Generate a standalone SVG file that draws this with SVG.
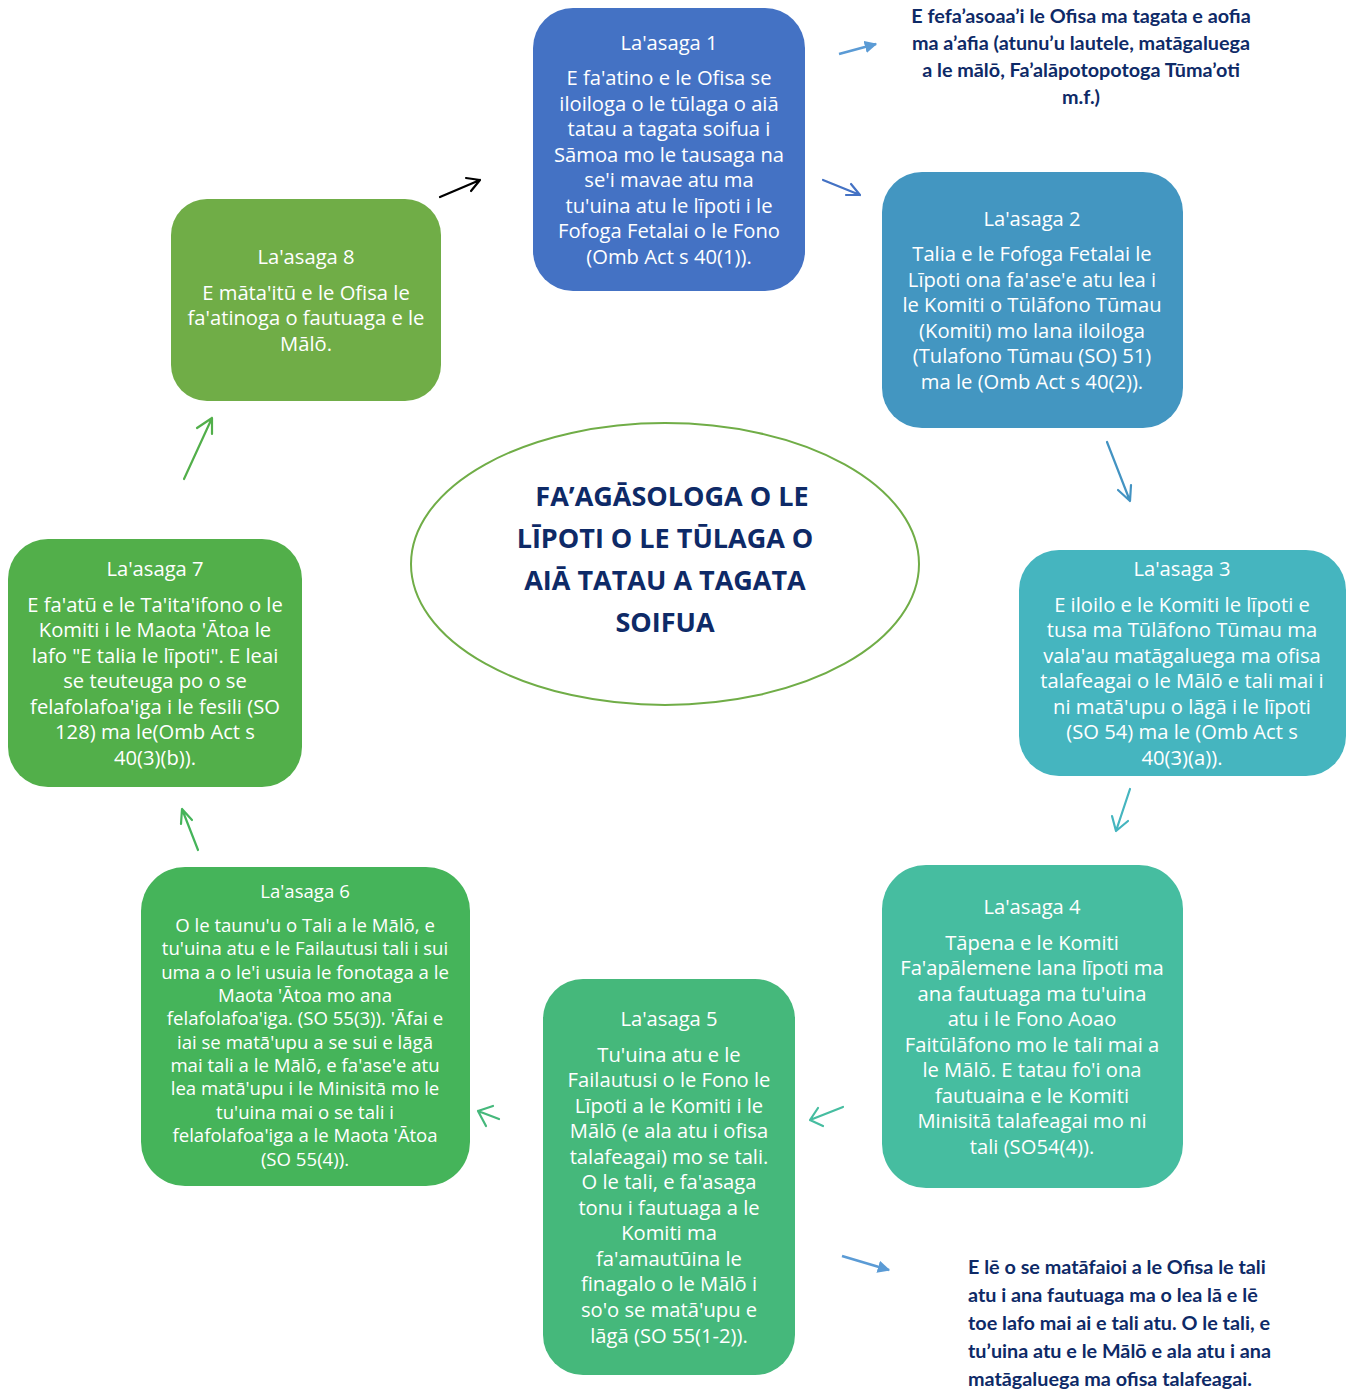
<svg xmlns="http://www.w3.org/2000/svg" width="1348" height="1391" viewBox="0 0 1348 1391">
<defs>
<style>
.nt{font-family:"Open Sans","Noto Sans",sans-serif;font-size:20.2px;fill:#fff;text-anchor:middle}
.n6{font-size:18.6px}
.ann{font-family:Lato,"Liberation Sans",sans-serif;font-weight:bold;font-size:19.8px;fill:#0E2A67}
.ttl{font-family:"Open Sans","Noto Sans",sans-serif;font-weight:bold;font-size:27px;fill:#0E2A67;text-anchor:middle}
.ar{fill:none;stroke-width:2.2;stroke-linecap:round;stroke-linejoin:round}
</style>
<marker id="tri" viewBox="0 0 10 10" refX="9" refY="5" markerWidth="5" markerHeight="5" orient="auto" markerUnits="strokeWidth"><path d="M0,0 L10,5 L0,10 z" fill="#5B9BD5"/></marker>
</defs>
<rect width="1348" height="1391" fill="#fff"/>

<g id="center">
<ellipse cx="665" cy="564" rx="254" ry="141" fill="#fff" stroke="#70AD47" stroke-width="2"/>
<text class="ttl" x="672" y="506">FA’AGĀSOLOGA O LE</text>
<text class="ttl" x="665" y="548">LĪPOTI O LE TŪLAGA O</text>
<text class="ttl" x="665" y="590">AIĀ TATAU A TAGATA</text>
<text class="ttl" x="665" y="632">SOIFUA</text>
</g>

<g id="node1">
<rect x="533" y="8" width="272" height="283" rx="40" fill="#4472C4"/>
<text class="nt" x="669" y="50">La'asaga 1</text>
<text class="nt" x="669" y="85">E fa'atino e le Ofisa se</text>
<text class="nt" x="669" y="111">iloiloga o le tūlaga o aiā</text>
<text class="nt" x="669" y="136">tatau a tagata soifua i</text>
<text class="nt" x="669" y="162">Sāmoa mo le tausaga na</text>
<text class="nt" x="669" y="187">se'i mavae atu ma</text>
<text class="nt" x="669" y="213">tu'uina atu le līpoti i le</text>
<text class="nt" x="669" y="238">Fofoga Fetalai o le Fono</text>
<text class="nt" x="669" y="264">(Omb Act s 40(1)).</text>
</g>

<g id="node2">
<rect x="882" y="172" width="301" height="256" rx="40" fill="#4396C1"/>
<text class="nt" x="1032" y="226">La'asaga 2</text>
<text class="nt" x="1032" y="261">Talia e le Fofoga Fetalai le</text>
<text class="nt" x="1032" y="287">Līpoti ona fa'ase'e atu lea i</text>
<text class="nt" x="1032" y="312">le Komiti o Tūlāfono Tūmau</text>
<text class="nt" x="1032" y="338">(Komiti) mo lana iloiloga</text>
<text class="nt" x="1032" y="363">(Tulafono Tūmau (SO) 51)</text>
<text class="nt" x="1032" y="389">ma le (Omb Act s 40(2)).</text>
</g>

<g id="node3">
<rect x="1019" y="550" width="327" height="226" rx="40" fill="#45B5BF"/>
<text class="nt" x="1182" y="576">La'asaga 3</text>
<text class="nt" x="1182" y="612">E iloilo e le Komiti le līpoti e</text>
<text class="nt" x="1182" y="637">tusa ma Tūlāfono Tūmau ma</text>
<text class="nt" x="1182" y="663">vala'au matāgaluega ma ofisa</text>
<text class="nt" x="1182" y="688">talafeagai o le Mālō e tali mai i</text>
<text class="nt" x="1182" y="714">ni matā'upu o lāgā i le līpoti</text>
<text class="nt" x="1182" y="739">(SO 54) ma le (Omb Act s</text>
<text class="nt" x="1182" y="765">40(3)(a)).</text>
</g>

<g id="node4">
<rect x="882" y="865" width="301" height="323" rx="44" fill="#46BDA0"/>
<text class="nt" x="1032" y="914">La'asaga 4</text>
<text class="nt" x="1032" y="950">Tāpena e le Komiti</text>
<text class="nt" x="1032" y="975">Fa'apālemene lana līpoti ma</text>
<text class="nt" x="1032" y="1001">ana fautuaga ma tu'uina</text>
<text class="nt" x="1032" y="1026">atu i le Fono Aoao</text>
<text class="nt" x="1032" y="1052">Faitūlāfono mo le tali mai a</text>
<text class="nt" x="1032" y="1077">le Mālō. E tatau fo'i ona</text>
<text class="nt" x="1032" y="1103">fautuaina e le Komiti</text>
<text class="nt" x="1032" y="1128">Minisitā talafeagai mo ni</text>
<text class="nt" x="1032" y="1154">tali (SO54(4)).</text>
</g>

<g id="node5">
<rect x="543" y="979" width="252" height="396" rx="40" fill="#45B87B"/>
<text class="nt" x="669" y="1026">La'asaga 5</text>
<text class="nt" x="669" y="1062">Tu'uina atu e le</text>
<text class="nt" x="669" y="1087">Failautusi o le Fono le</text>
<text class="nt" x="669" y="1113">Līpoti a le Komiti i le</text>
<text class="nt" x="669" y="1138">Mālō (e ala atu i ofisa</text>
<text class="nt" x="669" y="1164">talafeagai) mo se tali.</text>
<text class="nt" x="669" y="1189">O le tali, e fa'asaga</text>
<text class="nt" x="669" y="1215">tonu i fautuaga a le</text>
<text class="nt" x="669" y="1240">Komiti ma</text>
<text class="nt" x="669" y="1266">fa'amautūina le</text>
<text class="nt" x="669" y="1291">finagalo o le Mālō i</text>
<text class="nt" x="669" y="1317">so'o se matā'upu e</text>
<text class="nt" x="669" y="1343">lāgā (SO 55(1-2)).</text>
</g>

<g id="node6">
<rect x="141" y="867" width="329" height="319" rx="44" fill="#45B45A"/>
<text class="nt n6" x="305" y="898">La'asaga 6</text>
<text class="nt n6" x="305" y="932">O le taunu'u o Tali a le Mālō, e</text>
<text class="nt n6" x="305" y="955">tu'uina atu e le Failautusi tali i sui</text>
<text class="nt n6" x="305" y="979">uma a o le'i usuia le fonotaga a le</text>
<text class="nt n6" x="305" y="1002">Maota 'Ātoa mo ana</text>
<text class="nt n6" x="305" y="1025">felafolafoa'iga. (SO 55(3)). 'Āfai e</text>
<text class="nt n6" x="305" y="1049">iai se matā'upu a se sui e lāgā</text>
<text class="nt n6" x="305" y="1072">mai tali a le Mālō, e fa'ase'e atu</text>
<text class="nt n6" x="305" y="1095">lea matā'upu i le Minisitā mo le</text>
<text class="nt n6" x="305" y="1119">tu'uina mai o se tali i</text>
<text class="nt n6" x="305" y="1142">felafolafoa'iga a le Maota 'Ātoa</text>
<text class="nt n6" x="305" y="1166">(SO 55(4)).</text>
</g>

<g id="node7">
<rect x="8" y="539" width="294" height="248" rx="40" fill="#52AF4A"/>
<text class="nt" x="155" y="576">La'asaga 7</text>
<text class="nt" x="155" y="612">E fa'atū e le Ta'ita'ifono o le</text>
<text class="nt" x="155" y="637">Komiti i le Maota 'Ātoa le</text>
<text class="nt" x="155" y="663">lafo "E talia le līpoti". E leai</text>
<text class="nt" x="155" y="688">se teuteuga po o se</text>
<text class="nt" x="155" y="714">felafolafoa'iga i le fesili (SO</text>
<text class="nt" x="155" y="739">128) ma le(Omb Act s</text>
<text class="nt" x="155" y="765">40(3)(b)).</text>
</g>

<g id="node8">
<rect x="171" y="199" width="270" height="202" rx="36" fill="#70AD47"/>
<text class="nt" x="306" y="264">La'asaga 8</text>
<text class="nt" x="306" y="300">E māta'itū e le Ofisa le</text>
<text class="nt" x="306" y="325">fa'atinoga o fautuaga e le</text>
<text class="nt" x="306" y="351">Mālō.</text>
</g>

<g id="note1">
<text class="ann" text-anchor="middle" x="1081" y="23">E fefa’asoaa’i le Ofisa ma tagata e aofia</text>
<text class="ann" text-anchor="middle" x="1081" y="50">ma a’afia (atunu’u lautele, matāgaluega</text>
<text class="ann" text-anchor="middle" x="1081" y="77">a le mālō, Fa’alāpotopotoga Tūma’oti</text>
<text class="ann" text-anchor="middle" x="1081" y="104">m.f.)</text>
</g>

<g id="note2">
<text class="ann" x="968" y="1274">E lē o se matāfaioi a le Ofisa le tali</text>
<text class="ann" x="968" y="1302">atu i ana fautuaga ma o lea lā e lē</text>
<text class="ann" x="968" y="1330">toe lafo mai ai e tali atu. O le tali, e</text>
<text class="ann" x="968" y="1358">tu’uina atu e le Mālō e ala atu i ana</text>
<text class="ann" x="968" y="1386">matāgaluega ma ofisa talafeagai.</text>
</g>

<g id="connectors">
<path class="ar" stroke="#000" d="M440,197 L480,180 M466,178 L480,180 L471,191"/>
<path class="ar" stroke="#4472C4" d="M823,180 L860,195 M846,195 L860,195 L851,184"/>
<path class="ar" stroke="#4393C2" d="M1107,442 L1130,501 M1118,490 L1130,501 L1131,485"/>
<path class="ar" stroke="#45B5BF" d="M1130,789 L1116,831 M1112,816 L1116,831 L1128,821"/>
<path class="ar" stroke="#46BDA0" d="M843,1107 L810,1120 M823,1126 L810,1120 L818,1108"/>
<path class="ar" stroke="#45B87B" d="M499,1119 L478,1111 M486,1126 L478,1111 L493,1106"/>
<path class="ar" stroke="#45B45A" d="M198,850 L182,809 M181,824 L182,809 L192,820"/>
<path class="ar" stroke="#52AF4A" d="M184,479 L212,418 M197,428 L212,418 L212,434"/>
<line x1="839" y1="54" x2="876" y2="44" stroke="#5B9BD5" stroke-width="2.5" marker-end="url(#tri)"/>
<line x1="842" y1="1256" x2="889" y2="1270" stroke="#5B9BD5" stroke-width="2.5" marker-end="url(#tri)"/>
</g>
</svg>
